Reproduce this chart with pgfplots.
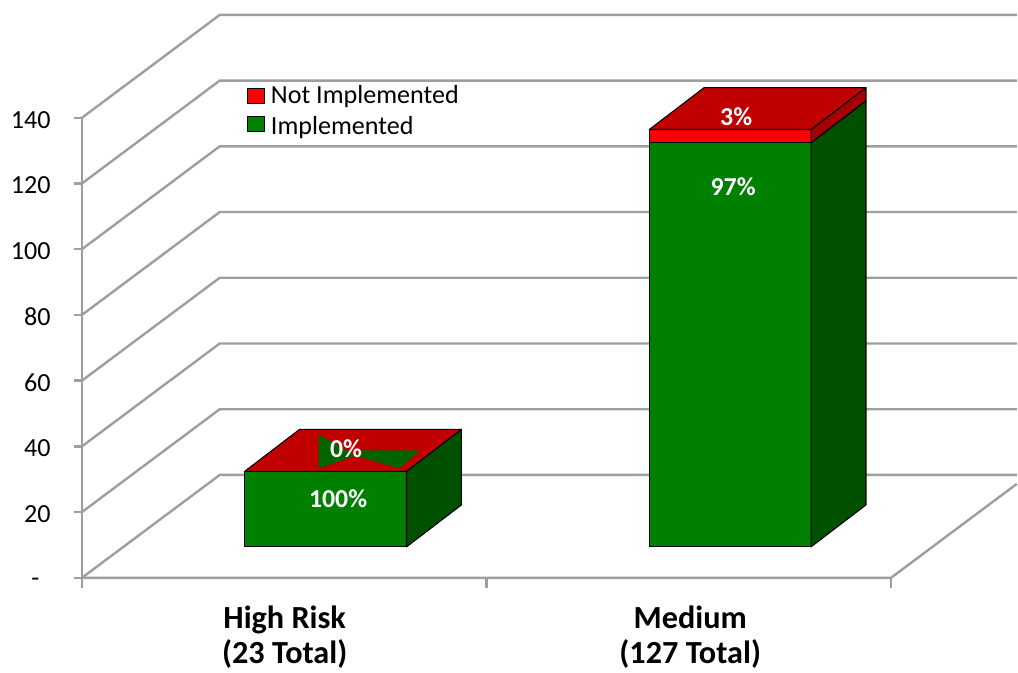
\documentclass[border=0pt]{standalone}
\usepackage{pgfplots}
\pgfplotsset{compat=1.18}
\usepackage{fontspec}
\setmainfont{Carlito}

\definecolor{implfront}{RGB}{0,128,0}
\definecolor{implside}{RGB}{0,80,0}
\definecolor{nifront}{RGB}{255,0,0}
\definecolor{nitop}{RGB}{192,0,0}
\definecolor{niside}{RGB}{165,0,0}
\definecolor{gridgray}{RGB}{158,158,158}
\definecolor{glitch}{RGB}{0,100,0}

% x runs in drawing units (0..1018), y in data units.
% A bar's front face sits 9.42 units above the floor line, its back face 22.19 units,
% the back face is shifted 55 to the right; the bar is 162 wide.
\newcommand\barseg[5]{% centre, low, high, front colour, side colour
  \pgfmathsetmacro\xl{#1-81}\pgfmathsetmacro\xr{#1+81}\pgfmathsetmacro\xb{#1+136}%
  \pgfmathsetmacro\ylo{#2+9.42}\pgfmathsetmacro\yhi{#3+9.42}%
  \pgfmathsetmacro\ylob{#2+22.19}\pgfmathsetmacro\yhib{#3+22.19}%
  \edef\next{%
    \noexpand\addplot[face,fill=#4] coordinates {(\xl,\ylo) (\xr,\ylo) (\xr,\yhi) (\xl,\yhi)} --cycle;
    \noexpand\addplot[face,fill=#5] coordinates {(\xr,\ylo) (\xb,\ylob) (\xb,\yhib) (\xr,\yhi)} --cycle;}%
  \next}
\newcommand\bartop[3]{% centre, value, colour
  \pgfmathsetmacro\xl{#1-81}\pgfmathsetmacro\xr{#1+81}%
  \pgfmathsetmacro\xlb{#1-26}\pgfmathsetmacro\xrb{#1+136}%
  \pgfmathsetmacro\yf{#2+9.42}\pgfmathsetmacro\yb{#2+22.19}%
  \edef\next{%
    \noexpand\addplot[face,fill=#3] coordinates {(\xl,\yf) (\xr,\yf) (\xrb,\yb) (\xlb,\yb)} --cycle;}%
  \next}

\newcommand\ticklab{\fontsize{19.6}{23.5}\selectfont}
\newcommand\catlab{\fontsize{24.2}{29}\selectfont\bfseries}
\newcommand\vallab{\fontsize{19.4}{23.3}\selectfont\bfseries}

\begin{document}
\begin{tikzpicture}
\begin{axis}[
  scale only axis,
  width=763.5pt, height=504.75pt,
  xmin=0, xmax=1018, ymin=-28.72, ymax=175.84,
  hide axis, clip=false,
  face/.style={draw=black, line width=0.8pt, line join=round, mark=none},
  gridln/.style={draw=gridgray, line width=1.8pt, mark=none},
]
% page extent
\addplot[draw=none, mark=none] coordinates {(0,-28.72) (1018,175.84)};

% walls: left wall diagonals and back wall lines
\addplot[gridln] coordinates {(82,0) (220,31.31) (1018,31.31)};
\addplot[gridln] coordinates {(82,20) (220,51.31) (1018,51.31)};
\addplot[gridln] coordinates {(82,40) (220,71.31) (1018,71.31)};
\addplot[gridln] coordinates {(82,60) (220,91.31) (1018,91.31)};
\addplot[gridln] coordinates {(82,80) (220,111.31) (1018,111.31)};
\addplot[gridln] coordinates {(82,100) (220,131.31) (1018,131.31)};
\addplot[gridln] coordinates {(82,120) (220,151.31) (1018,151.31)};
\addplot[gridln] coordinates {(82,140) (220,171.31) (1018,171.31)};
% value axis and its ticks
\addplot[gridln] coordinates {(82,-3.19) (82,140)};
\addplot[gridln] coordinates {(74,0) (82,0)};
\addplot[gridln] coordinates {(74,20) (82,20)};
\addplot[gridln] coordinates {(74,40) (82,40)};
\addplot[gridln] coordinates {(74,60) (82,60)};
\addplot[gridln] coordinates {(74,80) (82,80)};
\addplot[gridln] coordinates {(74,100) (82,100)};
\addplot[gridln] coordinates {(74,120) (82,120)};
\addplot[gridln] coordinates {(74,140) (82,140)};
% floor
\addplot[gridln] coordinates {(82,0) (892,0) (1018,28.59)};
\addplot[gridln] coordinates {(487,0) (487,-3.19)};
\addplot[gridln] coordinates {(892,0) (892,-3.19)};

% High Risk: 23 implemented, 0 not implemented
\barseg{326}{0}{23}{implfront}{implside}
\bartop{326}{23}{nitop}
\addplot[fill=glitch, draw=none, mark=none] coordinates {(319,43.62) (319,33.28) (356,37.23)} --cycle;
\addplot[fill=glitch, draw=none, mark=none] coordinates {(356,37.23) (362,38.75) (420,38.75) (400,33.28)} --cycle;

% Medium: 123 implemented, 4 not implemented
\barseg{731}{0}{123}{implfront}{implside}
\barseg{731}{123}{127}{nifront}{niside}
\bartop{731}{127}{nitop}

% legend
\draw[fill=nifront, draw=black, line width=0.8pt] (axis cs:247.5,148.9) rectangle (axis cs:264.5,144.3);
\draw[fill=implfront, draw=black, line width=0.8pt] (axis cs:247.5,140.4) rectangle (axis cs:264.5,135.8);
\node[anchor=base west, inner sep=0, font=\ticklab] at (axis cs:271,144.22) {Not Implemented};
\node[anchor=base west, inner sep=0, font=\ticklab] at (axis cs:271,134.8) {Implemented};

% value axis labels
\pgfplotsinvokeforeach{20,40,...,140}{
  \node[anchor=east, inner sep=0, font=\ticklab, yshift=-1.5pt] at (axis cs:51,#1) {#1};
}
\node[inner sep=0, font=\ticklab] at (axis cs:35.5,-1.37) {-};

% category labels
\node[anchor=base, inner sep=0, font=\catlab] at (axis cs:285,-15.44) {High Risk};
\node[anchor=base, inner sep=0, font=\catlab] at (axis cs:285,-26.1) {(23 Total)};
\node[anchor=base, inner sep=0, font=\catlab] at (axis cs:691,-15.44) {Medium};
\node[anchor=base, inner sep=0, font=\catlab] at (axis cs:691,-26.1) {(127 Total)};

% share labels
\node[inner sep=0, font=\vallab, text=white] at (axis cs:338.5,24.16) {100\%};
\node[inner sep=0, font=\vallab, text=white] at (axis cs:346.5,39.36) {0\%};
\node[inner sep=0, font=\vallab, text=white] at (axis cs:734,119.0) {97\%};
\node[inner sep=0, font=\vallab, text=white] at (axis cs:737,140.27) {3\%};
\end{axis}
\end{tikzpicture}
\end{document}
